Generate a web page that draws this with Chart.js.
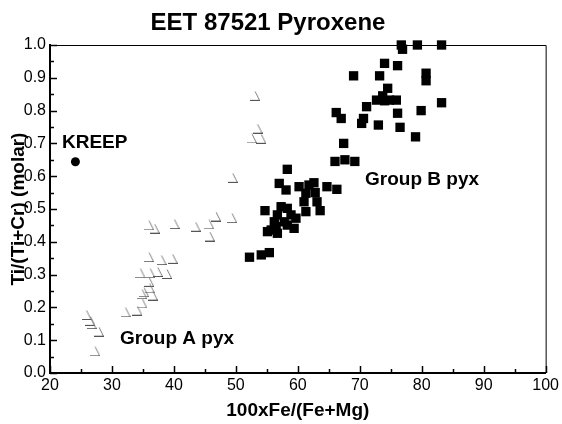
<!DOCTYPE html>
<html>
<head>
<meta charset="utf-8">
<script src="https://cdn.jsdelivr.net/npm/chart.js@4.4.0/dist/chart.umd.min.js"></script>
<style>
  html, body { margin: 0; padding: 0; background: #fff; }
  #wrap { width: 562px; height: 424px; }
</style>
</head>
<body>
<div id="wrap"><canvas id="pyxChart" width="562" height="424"></canvas></div>
<script>
// ticks
const xTickValues = [20, 30, 40, 50, 60, 70, 80, 90, 100];
const yTickValues = [0.0, 0.1, 0.2, 0.3, 0.4, 0.5, 0.6, 0.7, 0.8, 0.9, 1.0];

// KREEP
const kreepX = [24.1];
const kreepY = [0.644];

// Group A pyx (open markers)
const groupAX = [53.1, 53.5, 54.1, 52.6, 49.5, 49.4, 36.0, 36.9, 40.1, 43.5, 45.7, 46.8, 45.8,
    36.0, 38.0, 39.8, 34.6, 36.2, 37.4, 38.9, 36.0, 35.2, 36.1, 36.6, 34.9, 34.9, 34.1, 32.2,
    25.9, 26.5, 26.7, 27.9, 27.3];
const groupAY = [0.845, 0.745, 0.714, 0.715, 0.595, 0.472, 0.450, 0.440, 0.454, 0.446, 0.453, 0.477, 0.416,
    0.353, 0.344, 0.348, 0.304, 0.304, 0.308, 0.302, 0.278, 0.246, 0.258, 0.236, 0.240, 0.212, 0.190, 0.185,
    0.177, 0.159, 0.149, 0.126, 0.066];

// Group B pyx (filled squares)
const groupBX = [76.7, 76.9, 79.3, 83.2, 74.0, 76.1, 69.0, 73.2, 80.7, 80.7, 74.5, 73.7, 72.7, 74.0,
    75.9, 74.8, 83.2, 71.1, 66.2, 67.0, 79.9, 76.1, 70.6, 70.3, 73.0, 76.5, 79.0, 67.4,
    66.0, 67.6, 69.2,
    58.3, 57.0, 58.1, 60.2, 61.8, 62.6, 64.7, 66.3, 61.3, 62.8, 61.0, 63.1, 63.6, 54.7,
    57.3, 58.3, 56.7, 58.9, 56.2, 57.8, 59.7, 61.3, 55.7, 56.7, 59.4, 55.1, 56.5, 58.3,
    52.2, 54.1, 55.4];
const groupBY = [1.0, 0.987, 1.0, 1.0, 0.944, 0.937, 0.906, 0.906, 0.914, 0.891, 0.868, 0.845, 0.832, 0.830,
    0.832, 0.832, 0.824, 0.812, 0.794, 0.776, 0.800, 0.792, 0.776, 0.761, 0.756, 0.749, 0.720, 0.700,
    0.645, 0.650, 0.645,
    0.621, 0.578, 0.558, 0.568, 0.573, 0.580, 0.568, 0.560, 0.548, 0.550, 0.522, 0.522, 0.495, 0.495,
    0.507, 0.502, 0.482, 0.482, 0.461, 0.461, 0.472, 0.492, 0.436, 0.426, 0.441, 0.431, 0.446, 0.451,
    0.353, 0.360, 0.367];

function toPoints(xs, ys) {
    return xs.map((x, i) => ({x: x, y: ys[i]}));
}

// the "open triangle" glyph of group A
function makeGlyph() {
    const c = document.createElement('canvas');
    c.width = 10;
    c.height = 10;
    const g = c.getContext('2d');
    g.lineWidth = 1;
    g.strokeStyle = '#808080';
    g.beginPath();
    g.moveTo(5, 0.5);
    g.lineTo(9.5, 9.5);
    g.stroke();
    g.strokeStyle = '#555';
    g.beginPath();
    g.moveTo(0, 9.5);
    g.lineTo(10, 9.5);
    g.stroke();
    return c;
}

const FONT = "'Liberation Sans', Arial, sans-serif";

const framePlugin = {
    id: 'frame',
    afterDraw(chart) {
        const {ctx, chartArea: a, scales: {x, y}} = chart;
        ctx.save();
        ctx.strokeStyle = '#000';
        ctx.lineWidth = 1;
        // top and right box lines
        ctx.beginPath();
        ctx.moveTo(a.left, a.top + 0.5);
        ctx.lineTo(a.right + 0.5, a.top + 0.5);
        ctx.lineTo(a.right + 0.5, a.bottom);
        ctx.stroke();
        // inward ticks, bottom
        ctx.lineWidth = 1.5;
        for (let v = 20; v <= 100; v += 5) {
            const px = Math.round(x.getPixelForValue(v)) + 0.5;
            const len = v % 10 === 0 ? 7 : 4;
            ctx.beginPath();
            ctx.moveTo(px, a.bottom);
            ctx.lineTo(px, a.bottom - len);
            ctx.stroke();
        }
        // inward ticks, left
        for (let i = 0; i <= 20; i++) {
            const py = Math.round(y.getPixelForValue(i * 0.05)) + 0.5;
            const len = i % 2 === 0 ? 7 : 4;
            ctx.beginPath();
            ctx.moveTo(a.left, py);
            ctx.lineTo(a.left + len, py);
            ctx.stroke();
        }
        // titles
        ctx.fillStyle = '#000';
        ctx.textAlign = 'center';
        ctx.textBaseline = 'alphabetic';
        ctx.font = 'bold 24px ' + FONT;
        ctx.fillText('EET 87521 Pyroxene', 268, 30);
        ctx.font = 'bold 19px ' + FONT;
        ctx.fillText('100xFe/(Fe+Mg)', (a.left + a.right) / 2, 416);
        ctx.save();
        ctx.translate(24, (a.top + a.bottom) / 2);
        ctx.rotate(-Math.PI / 2);
        ctx.fillText('Ti/(Ti+Cr) (molar)', 0, 0);
        ctx.restore();
        // labels in the plot
        ctx.textAlign = 'left';
        ctx.fillText('KREEP', 62, 148);
        ctx.fillText('Group A pyx', 120, 344);
        ctx.fillText('Group B pyx', 365, 185);
        ctx.restore();
    }
};

const pyxCtx = document.getElementById('pyxChart');
const pyxChart = new Chart(pyxCtx, {
    type: 'scatter',
    data: {
        datasets: [{
                label: 'Group A pyx',
                data: toPoints(groupAX, groupAY),
                pointStyle: makeGlyph(),
                clip: false
            }, {
                label: 'Group B pyx',
                data: toPoints(groupBX, groupBY),
                pointStyle: 'rect',
                pointRadius: 6.6,
                backgroundColor: '#000',
                borderColor: '#000',
                borderWidth: 0,
                clip: false
            }, {
                label: 'KREEP',
                data: toPoints(kreepX, kreepY),
                pointStyle: 'circle',
                pointRadius: 4.5,
                backgroundColor: '#000',
                borderColor: '#000',
                borderWidth: 0,
                clip: false
            }]
    },
    plugins: [framePlugin],
    options: {
        responsive: false,
        animation: false,
        events: [],
        layout: {
            padding: {top: 45, right: 11, left: 0, bottom: 0}
        },
        scales: {
            x: {
                type: 'linear',
                min: 20,
                max: 100,
                afterBuildTicks: s => { s.ticks = xTickValues.map(v => ({value: v})); },
                afterFit: s => { s.height = 51; },
                grid: {display: false, drawTicks: false},
                border: {display: true, color: '#000', width: 2},
                ticks: {
                    color: '#000',
                    padding: 3,
                    maxRotation: 0,
                    font: {family: FONT, size: 16}
                }
            },
            y: {
                type: 'linear',
                min: 0,
                max: 1,
                afterBuildTicks: s => { s.ticks = yTickValues.map(v => ({value: v})); },
                afterFit: s => { s.width = 50; },
                grid: {display: false, drawTicks: false},
                border: {display: true, color: '#000', width: 2},
                ticks: {
                    color: '#000',
                    padding: 4,
                    font: {family: FONT, size: 16},
                    callback: v => v.toFixed(1)
                }
            }
        },
        plugins: {
            legend: {display: false},
            tooltip: {enabled: false},
            title: {display: false}
        }
    }
});
</script>
</body>
</html>
